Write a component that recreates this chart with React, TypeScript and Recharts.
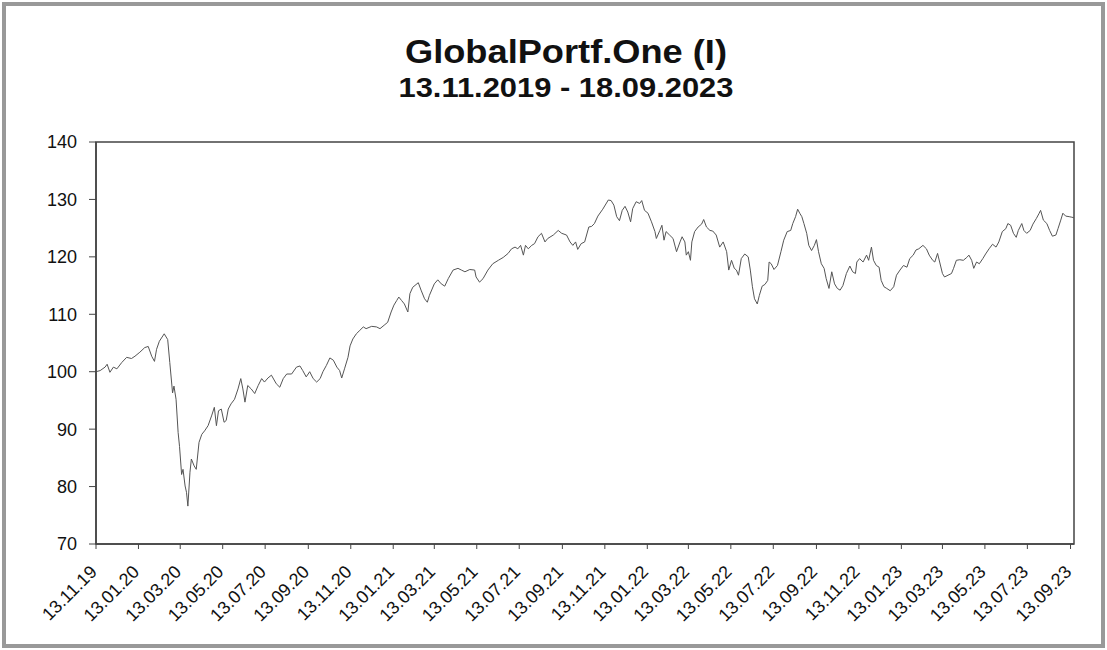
import { LineChart, Line, XAxis, YAxis, ReferenceArea } from 'recharts';

// fund values, grouped by year (MM-DD)
const dates2019 = ['11-13', '11-19', '11-26', '11-29', '12-03', '12-08', '12-13', '12-20', '12-27'];
const values2019 = [100.0, 100.2, 100.8, 101.3, 99.9, 100.8, 100.5, 101.6, 102.5];

const dates2020 = [
  '01-03', '01-08', '01-15', '01-22', '01-27', '02-01', '02-05', '02-08', '02-12', '02-19',
  '02-24', '02-27', '03-02', '03-04', '03-07', '03-10', '03-12', '03-15', '03-17', '03-20',
  '03-22', '03-24', '03-27', '03-29', '04-02', '04-05', '04-09', '04-13', '04-17', '04-22',
  '04-27', '05-01', '05-04', '05-07', '05-11', '05-15', '05-18', '05-21', '05-25', '05-30',
  '06-04', '06-08', '06-11', '06-14', '06-18', '06-23', '06-28', '07-03', '07-08', '07-12',
  '07-17', '07-22', '07-29', '08-03', '08-08', '08-13', '08-20', '08-27', '09-01', '09-05',
  '09-10', '09-15', '09-20', '09-25', '09-30', '10-04', '10-09', '10-14', '10-19', '10-24',
  '10-28', '10-31', '11-04', '11-09', '11-12', '11-16', '11-21', '11-26', '12-01', '12-05',
  '12-13', '12-20', '12-25',
];
const values2020 = [
  102.3, 102.7, 103.4, 104.2, 104.4, 102.7, 101.8, 103.9, 105.3, 106.6,
  105.6, 101.6, 96.3, 97.5, 95.2, 89.4, 87.0, 82.1, 83.0, 80.1,
  79.0, 76.6, 82.5, 84.8, 83.6, 83.0, 87.7, 89.1, 89.7, 90.6,
  92.3, 93.8, 90.6, 93.2, 93.5, 91.2, 91.5, 93.5, 94.4, 95.2,
  97.0, 98.8, 97.0, 94.7, 97.6, 97.0, 96.2, 97.6, 98.8, 98.2,
  98.9, 99.4, 97.9, 97.3, 98.8, 99.6, 99.6, 100.8, 101.0, 100.2,
  99.1, 100.0, 98.8, 98.2, 98.8, 100.0, 101.1, 102.4, 102.0, 100.8,
  100.2, 98.9, 100.5, 102.5, 104.5, 105.7, 106.6, 107.2, 107.8, 107.5,
  107.9, 107.8, 107.5,
];

const dates2021 = [
  '01-01', '01-05', '01-10', '01-14', '01-18', '01-21', '01-25', '01-29', '02-03', '02-06',
  '02-10', '02-18', '02-22', '02-27', '03-03', '03-06', '03-13', '03-18', '03-23', '03-28',
  '04-02', '04-09', '04-16', '04-21', '04-26', '05-03', '05-10', '05-12', '05-17', '05-22',
  '05-29', '06-05', '06-13', '06-20', '06-27', '07-02', '07-07', '07-11', '07-15', '07-19',
  '07-22', '07-26', '07-31', '08-04', '08-09', '08-14', '08-19', '08-23', '08-31', '09-07',
  '09-12', '09-19', '09-24', '09-28', '10-02', '10-05', '10-10', '10-15', '10-21', '10-25',
  '10-29', '11-03', '11-10', '11-18', '11-22', '11-26', '11-30', '12-04', '12-08', '12-12',
  '12-16', '12-20', '12-23', '12-28',
];
const values2021 = [
  108.2, 108.6, 110.4, 111.6, 112.4, 113.0, 112.4, 111.8, 110.4, 113.6,
  114.7, 115.5, 114.2, 112.7, 112.1, 113.3, 115.3, 116.0, 115.3, 114.9,
  116.2, 117.7, 118.0, 117.7, 117.4, 117.8, 117.7, 116.5, 115.6, 116.2,
  117.7, 118.8, 119.4, 119.9, 120.6, 121.4, 121.7, 121.4, 122.0, 120.3,
  122.0, 121.4, 122.0, 122.3, 123.5, 124.1, 122.6, 123.2, 123.8, 124.6,
  124.1, 123.8, 122.6, 122.0, 122.6, 121.3, 122.3, 122.6, 125.2, 125.3,
  125.8, 127.1, 128.3, 129.9, 129.8, 129.0, 127.0, 126.3, 128.1, 128.8,
  127.8, 126.1, 128.4, 129.6,
];

const dates2022 = [
  '01-02', '01-05', '01-09', '01-14', '01-19', '01-24', '01-26', '01-31', '02-03', '02-06',
  '02-09', '02-14', '02-19', '02-24', '03-01', '03-04', '03-08', '03-10', '03-13', '03-16',
  '03-18', '03-22', '03-27', '04-01', '04-04', '04-08', '04-13', '04-17', '04-22', '04-27',
  '05-02', '05-07', '05-10', '05-14', '05-18', '05-21', '05-24', '05-28', '06-02', '06-07',
  '06-10', '06-13', '06-16', '06-20', '06-23', '06-27', '07-01', '07-05', '07-07', '07-10',
  '07-14', '07-19', '07-24', '07-28', '08-02', '08-07', '08-10', '08-14', '08-17', '08-20',
  '08-23', '08-26', '08-30', '09-02', '09-06', '09-10', '09-13', '09-16', '09-20', '09-24',
  '09-27', '10-01', '10-05', '10-09', '10-13', '10-17', '10-21', '10-26', '10-31', '11-04',
  '11-08', '11-10', '11-14', '11-19', '11-24', '11-27', '12-01', '12-04', '12-08', '12-12',
  '12-15', '12-19', '12-23', '12-28',
];
const values2022 = [
  129.3, 129.8, 128.1, 127.6, 126.1, 124.4, 123.2, 124.6, 125.5, 122.9,
  124.4, 123.8, 123.2, 120.9, 122.6, 123.5, 122.6, 120.3, 120.9, 119.4,
  122.6, 124.4, 125.2, 125.7, 126.5, 125.2, 124.6, 124.5, 123.8, 121.7,
  122.6, 120.9, 117.7, 119.4, 118.0, 117.7, 116.8, 119.7, 120.5, 120.0,
  117.7, 114.8, 112.7, 111.8, 113.3, 114.9, 115.2, 115.9, 119.1, 118.8,
  117.8, 118.5, 120.9, 122.9, 124.4, 124.6, 125.8, 127.0, 128.3, 127.6,
  127.0, 125.8, 124.1, 122.0, 121.1, 122.0, 123.0, 120.9, 118.8, 118.0,
  116.2, 114.5, 117.4, 115.3, 114.5, 114.2, 115.0, 117.1, 118.4, 117.4,
  117.1, 119.1, 119.7, 119.1, 120.3, 119.4, 121.7, 119.4, 118.5, 118.2,
  115.9, 114.8, 114.5, 114.1,
];

const dates2023 = [
  '01-02', '01-06', '01-11', '01-16', '01-21', '01-25', '01-30', '02-03', '02-07', '02-13',
  '02-18', '02-22', '02-27', '03-02', '03-06', '03-09', '03-13', '03-16', '03-21', '03-26',
  '03-29', '04-02', '04-07', '04-12', '04-17', '04-20', '04-24', '04-27', '05-01', '05-05',
  '05-10', '05-14', '05-19', '05-24', '05-29', '06-02', '06-07', '06-12', '06-15', '06-19',
  '06-23', '06-27', '06-30', '07-05', '07-08', '07-12', '07-17', '07-21', '07-26', '07-30',
  '08-01', '08-05', '08-10', '08-14', '08-18', '08-23', '08-26', '08-30', '09-02', '09-06',
  '09-11', '09-15', '09-18',
];
const values2023 = [
  114.8, 116.8, 117.7, 118.5, 118.2, 119.7, 120.3, 121.2, 121.4, 122.0,
  121.4, 120.3, 119.4, 119.1, 120.6, 119.1, 117.1, 116.5, 116.8, 117.1,
  118.0, 119.4, 119.5, 119.4, 119.9, 120.3, 119.4, 118.0, 119.1, 118.8,
  119.7, 120.5, 121.4, 122.2, 121.7, 122.6, 124.4, 124.9, 125.8, 125.5,
  124.1, 123.4, 124.6, 125.8, 124.6, 124.1, 124.6, 125.7, 126.7, 127.6,
  128.1, 126.4, 125.8, 124.6, 123.6, 123.8, 124.9, 126.4, 127.6, 127.1,
  127.0, 126.9, 126.8,
];

const xTickDates = [
  '2019-11-13', '2020-01-13', '2020-03-13', '2020-05-13', '2020-07-13', '2020-09-13',
  '2020-11-13', '2021-01-13', '2021-03-13', '2021-05-13', '2021-07-13', '2021-09-13',
  '2021-11-13', '2022-01-13', '2022-03-13', '2022-05-13', '2022-07-13', '2022-09-13',
  '2022-11-13', '2023-01-13', '2023-03-13', '2023-05-13', '2023-07-13', '2023-09-13',
];
const yTicks = [70, 80, 90, 100, 110, 120, 130, 140];

const title = 'GlobalPortf.One (I)';
const subtitle = '13.11.2019 - 18.09.2023';

const toTime = (s: string) => Date.parse(s + 'T00:00:00Z');

const years: [number, string[], number[]][] = [
  [2019, dates2019, values2019],
  [2020, dates2020, values2020],
  [2021, dates2021, values2021],
  [2022, dates2022, values2022],
  [2023, dates2023, values2023],
];

const data = years.flatMap(([year, dates, values]) =>
  dates.map((md, i) => ({ t: toTime(`${year}-${md}`), value: values[i] }))
);

const xMin = toTime('2019-11-13');
const xMax = toTime('2023-09-18');
const xTicks = xTickDates.map(toTime);

const font = '"Liberation Sans", Arial, sans-serif';

const fmtDate = (t: number) => {
  const d = new Date(t);
  const dd = String(d.getUTCDate()).padStart(2, '0');
  const mm = String(d.getUTCMonth() + 1).padStart(2, '0');
  const yy = String(d.getUTCFullYear()).slice(2);
  return `${dd}.${mm}.${yy}`;
};

const DateTick = (props: any) => {
  const { x, y, payload } = props;
  return (
    <g transform={`translate(${x + 2},${y + 22})`}>
      <text textAnchor="end" transform="rotate(-45)" fontSize={18} fill="#111" fontFamily={font}>
        {fmtDate(payload.value)}
      </text>
    </g>
  );
};

const App = () => {
  return (
    <div style={{ position: 'fixed', left: 0, top: 0, width: 1107, height: 650, background: '#fff' }}>
      <LineChart
        width={1107}
        height={650}
        data={data}
        margin={{ top: 142, right: 33, left: 36, bottom: 16 }}
      >
        <XAxis
          dataKey="t"
          type="number"
          domain={[xMin, xMax]}
          ticks={xTicks}
          interval={0}
          allowDataOverflow
          height={90}
          tickSize={5}
          tickLine={{ stroke: '#444' }}
          axisLine={{ stroke: '#444', strokeWidth: 1.5 }}
          tick={<DateTick />}
        />
        <YAxis
          type="number"
          domain={[70, 140]}
          ticks={yTicks}
          interval={0}
          width={60}
          tickSize={7}
          tickMargin={12}
          tickLine={{ stroke: '#444' }}
          axisLine={{ stroke: '#444', strokeWidth: 1.5 }}
          tick={{ fontSize: 18, fill: '#111', fontFamily: font }}
        />
        <ReferenceArea
          x1={xMin}
          x2={xMax}
          y1={70}
          y2={140}
          fill="none"
          stroke="#444"
          strokeWidth={1.5}
          ifOverflow="visible"
        />
        <Line
          type="linear"
          dataKey="value"
          stroke="#555"
          strokeWidth={1}
          dot={false}
          isAnimationActive={false}
        />
      </LineChart>
      <svg
        width={1107}
        height={650}
        style={{ position: 'absolute', left: 0, top: 0, pointerEvents: 'none' }}
      >
        <rect x={4} y={4} width={1099} height={642} fill="none" stroke="#999" strokeWidth={4} />
        <text
          x={566}
          y={63}
          textAnchor="middle"
          fontSize={34}
          fontWeight="bold"
          fontFamily={font}
          textLength={322}
          lengthAdjust="spacingAndGlyphs"
          fill="#111"
        >
          {title}
        </text>
        <text
          x={566}
          y={97}
          textAnchor="middle"
          fontSize={27}
          fontWeight="bold"
          fontFamily={font}
          textLength={335}
          lengthAdjust="spacingAndGlyphs"
          fill="#111"
        >
          {subtitle}
        </text>
      </svg>
    </div>
  );
};

export default App;
